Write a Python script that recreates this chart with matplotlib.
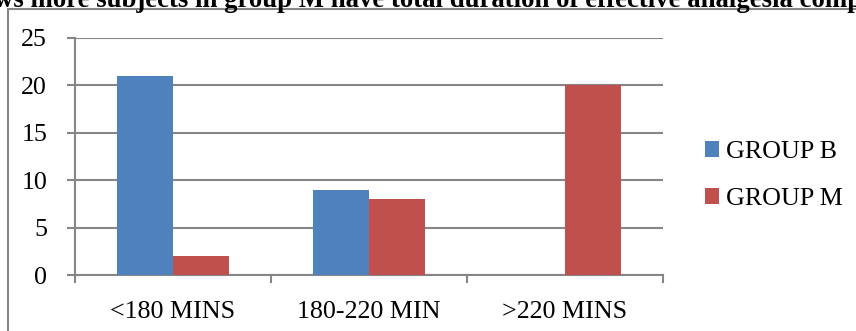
import numpy as np
import matplotlib
matplotlib.use("Agg")
import matplotlib.pyplot as plt
from matplotlib.patches import Rectangle

# data
categories = ['<180 MINS', '180-220 MIN', '>220 MINS']
group_b = [21, 9, 0]
group_m = [2, 8, 20]
y_ticks = [0, 5, 10, 15, 20, 25]
title_text = 'ws more subjects in group M have total duration of effective analgesia comp'

W, H = 856, 331
GRID = '#868686'
BLUE = '#4F81BD'
RED = '#C0504D'

plt.rcParams['font.family'] = ['Liberation Serif', 'DejaVu Serif']

fig = plt.figure(figsize=(W / 100, H / 100), dpi=100)

# chart area border (only the top and left sides are visible in the crop)
fig.patches.append(Rectangle((8 / W, -0.1), 1.2, 1 - 8.5 / H + 0.1,
                             transform=fig.transFigure, fill=False,
                             edgecolor=GRID, linewidth=1.5))

fig.text(0.5, 1 - 7 / H, title_text, ha='center', va='baseline',
         fontsize=19.3, fontweight='bold')

ax = fig.add_axes([75 / W, 1 - 275 / H, (663 - 75) / W, (275 - 38) / H])

x = np.arange(len(categories))
w = 0.2857
ax.bar(x - w / 2, group_b, w, color=BLUE, label='GROUP B', zorder=3)
ax.bar(x + w / 2, group_m, w, color=RED, label='GROUP M', zorder=3)

ax.set_xlim(-0.5, len(categories) - 0.5)
ax.set_ylim(0, 25)
ax.set_yticks(y_ticks)
ax.yaxis.grid(True, color=GRID, linewidth=1.5, zorder=0)
ax.set_axisbelow(True)

ax.set_xticks(x)
ax.set_xticklabels(categories, fontsize=18.7)
ax.set_xticks(np.arange(-0.5, len(categories), 1.0), minor=True)
ax.tick_params(axis='x', which='major', length=0, pad=19)
ax.tick_params(axis='x', which='minor', length=6, width=1.5, color=GRID,
               direction='out')
ax.tick_params(axis='y', length=6, width=1.5, color=GRID, pad=14,
               labelsize=18.7)

for s in ['top', 'right']:
    ax.spines[s].set_visible(False)
for s in ['left', 'bottom']:
    ax.spines[s].set_color(GRID)
    ax.spines[s].set_linewidth(1.5)

leg = fig.legend(loc='upper left', bbox_to_anchor=(705 / W, 1 - 141 / H),
                 frameon=False, fontsize=18.7, handlelength=0.55,
                 handleheight=0.55, handletextpad=0.25, labelspacing=0.97,
                 borderaxespad=0, borderpad=0)

fig.savefig('out.png', dpi=100)
